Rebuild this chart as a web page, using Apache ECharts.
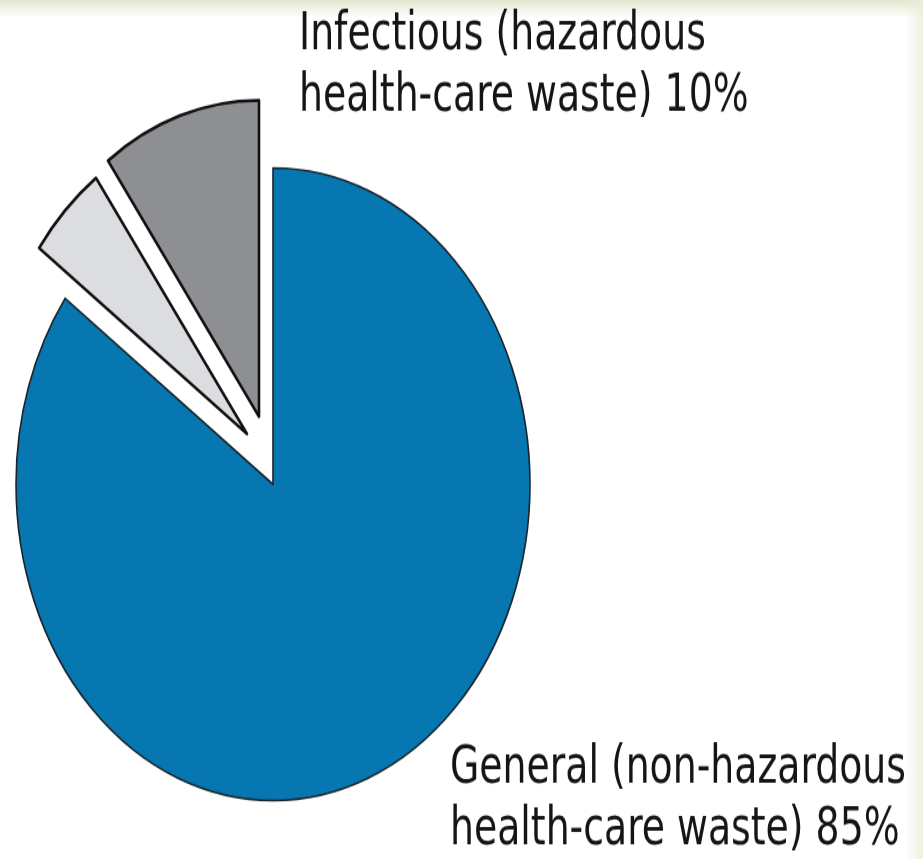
<!DOCTYPE html>
<html>
<head>
<meta charset="utf-8">
<script src="https://cdn.jsdelivr.net/npm/echarts@6/dist/echarts.min.js"></script>
<style>
  html, body { margin: 0; padding: 0; }
  body {
    width: 923px;
    height: 859px;
    overflow: hidden;
    background:
      linear-gradient(to left, rgba(232, 238, 216, 0.8) 0px, rgba(255, 255, 255, 0) 18px),
      linear-gradient(to bottom, #e2e9cf 0px, #ffffff 18px);
  }
  /* the source picture is stretched vertically, so the chart is too */
  #chart {
    width: 923px;
    height: 698px;
    transform: scaleY(1.2307);
    transform-origin: 0 0;
  }
</style>
</head>
<body>
<div id="chart"></div>
<script>
// slices, clockwise from 12 o'clock
const categories = [
  'General (non-hazardous\nhealth-care waste)',
  'Other hazardous waste',
  'Infectious (hazardous\nhealth-care waste)'
];
const values = [85, 5, 10];
const showLabel = [true, false, true];

const colors = ['#0677b0', '#dcdde0', '#8e8f93'];
const borders = [
  { color: '#1a232a', width: 1.6 },
  { color: '#111111', width: 2.6 },
  { color: '#111111', width: 2.6 }
];
// exploded slices: each drawn with its own centre
const centers = [[273, 393.5], [247, 352.5], [259, 338.5]];
const labelPos = [[450, 600], null, [299, 4]];

const chart = echarts.init(document.getElementById('chart'));

const series = categories.map((_, i) => ({
  type: 'pie',
  silent: true,
  startAngle: 90,
  clockwise: true,
  center: centers[i],
  radius: [0, 257],
  z: i === 0 ? 1 : 2,
  emphasis: { disabled: true },
  labelLine: { show: false },
  label: {
    position: 'outside',
    alignTo: 'none',
    overflow: 'none',
    formatter: '{b} {c}%',
    fontFamily: '"DejaVu Sans Condensed", "Liberation Sans Narrow", sans-serif',
    fontSize: 42,
    lineHeight: 50,
    color: '#151515'
  },
  labelLayout: () => labelPos[i] ? {
    x: labelPos[i][0],
    y: labelPos[i][1],
    align: 'left',
    verticalAlign: 'top',
    hideOverlap: false
  } : {},
  data: categories.map((name, j) => ({
    name: name,
    value: values[j],
    itemStyle: j === i
      ? { color: colors[i], borderColor: borders[i].color, borderWidth: borders[i].width }
      : { color: 'transparent', borderWidth: 0 },
    label: { show: j === i && showLabel[i] }
  }))
}));

chart.setOption({
  animation: false,
  backgroundColor: 'transparent',
  series: series
});
</script>
</body>
</html>
